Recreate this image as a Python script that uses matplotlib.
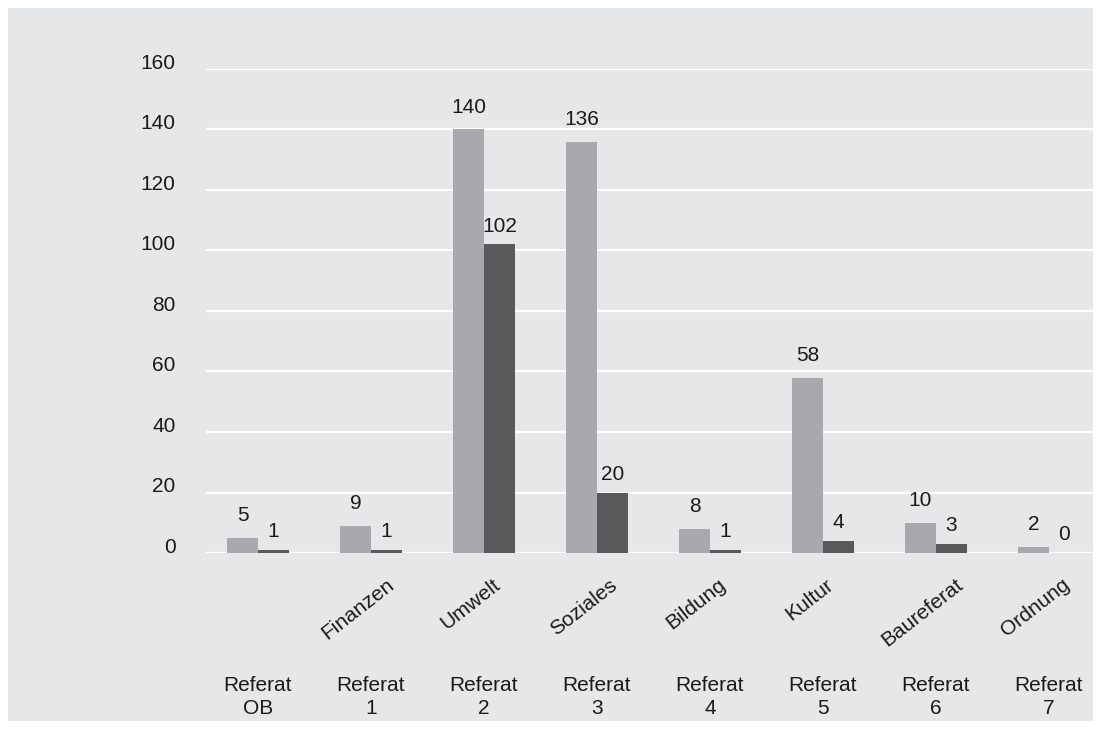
import matplotlib.pyplot as plt
from matplotlib.patches import Rectangle
import numpy as np

plt.rcParams['font.family'] = ['Liberation Sans', 'DejaVu Sans']

referate = ['Referat\nOB', 'Referat\n1', 'Referat\n2', 'Referat\n3',
            'Referat\n4', 'Referat\n5', 'Referat\n6', 'Referat\n7']
names = ['', 'Finanzen', 'Umwelt', 'Soziales', 'Bildung', 'Kultur',
         'Baureferat', 'Ordnung']
light_vals = [5, 9, 140, 136, 8, 58, 10, 2]
dark_vals = [1, 1, 102, 20, 1, 4, 3, 0]
yticks = [0, 20, 40, 60, 80, 100, 120, 140, 160]

bg = '#e6e7e8'
c_light = '#a7a9ac'
c_dark = '#58595b'
txt = '#1a1a1a'
fs = 15

W, H = 1101, 729
fig = plt.figure(figsize=(W / 100, H / 100), dpi=100, facecolor='white')
fig.patches.append(Rectangle((8 / W, 1 - 721 / H), 1085 / W, 713 / H,
                             transform=fig.transFigure, facecolor=bg,
                             edgecolor='none', zorder=-10))

ax = fig.add_axes([206 / W, 1 - 553 / H, 887 / W, 484 / H])
ax.set_facecolor('none')

x = np.arange(len(referate))
bw = 0.274
ax.bar(x - bw / 2, light_vals, bw, color=c_light, zorder=3)
ax.bar(x + bw / 2, dark_vals, bw, color=c_dark, zorder=3)

for xi, v in zip(x, light_vals):
    ax.annotate(str(v), (xi - bw / 2, v), xytext=(0, 16), textcoords='offset points',
                ha='center', va='center', fontsize=fs, color=txt)
for xi, v in zip(x, dark_vals):
    ax.annotate(str(v), (xi + bw / 2, v), xytext=(0, 13), textcoords='offset points',
                ha='center', va='center', fontsize=fs, color=txt)

ax.set_xlim(-0.46, -0.46 + 887 / 113)
ax.set_ylim(0, 160)
ax.set_yticks(yticks)
ax.yaxis.grid(True, color='white', linewidth=1.6, zorder=1)
ax.set_axisbelow(True)
ax.tick_params(axis='y', length=0, pad=22, labelsize=fs, labelcolor=txt)
for lab in ax.get_yticklabels():
    lab.set_verticalalignment('baseline')
ax.set_xticks([])
for s in ax.spines.values():
    s.set_visible(False)

# rotated names under the axis
for xi, nm in zip(x, names):
    ax.annotate(nm, (xi - 0.12, 0), xytext=(0, -16), textcoords='offset points',
                ha='center', va='top', rotation=38, fontsize=fs, color=txt,
                annotation_clip=False)

# Referat labels
for xi, r in zip(x, referate):
    ax.annotate(r, (xi, 0), xytext=(0, -(697 - 553) * 0.72), textcoords='offset points',
                ha='center', va='center', fontsize=fs, linespacing=1.3,
                color=txt, annotation_clip=False)

fig.savefig('out.png', dpi=100, facecolor='white')
